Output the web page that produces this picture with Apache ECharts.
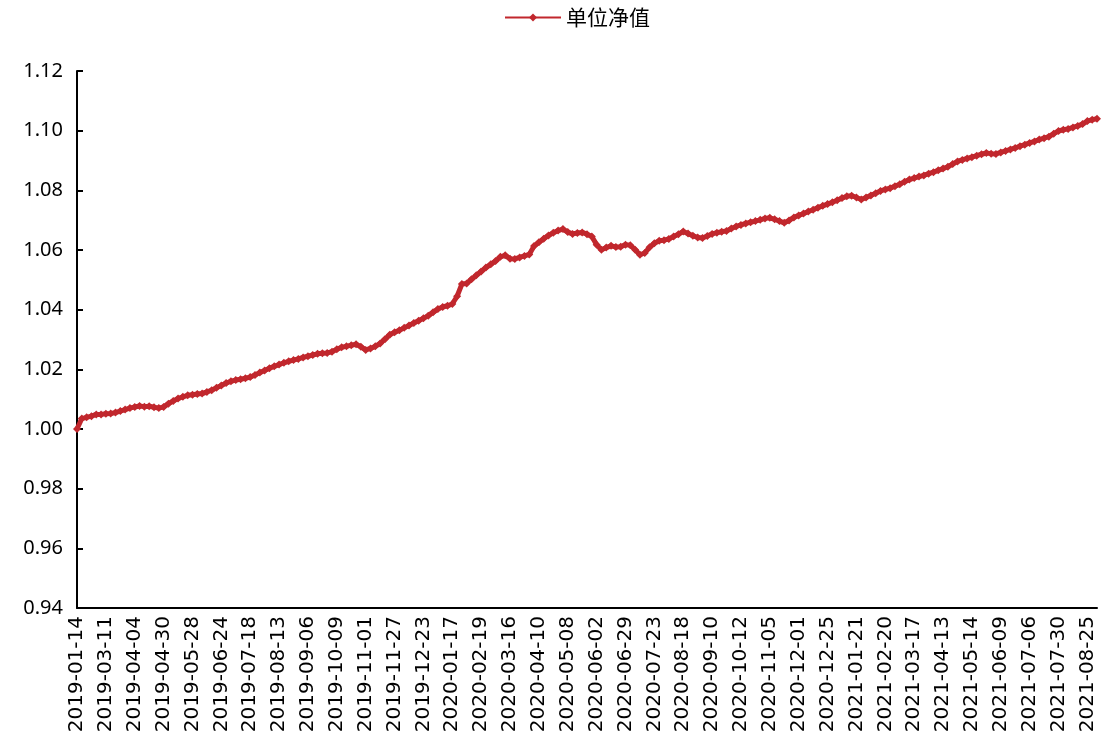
<!DOCTYPE html>
<html>
<head>
<meta charset="utf-8">
<script src="https://cdn.jsdelivr.net/npm/echarts@6/dist/echarts.min.js"></script>
<style>
html,body{margin:0;padding:0;background:#fff;}
#chart{width:1116px;height:742px;}
</style>
</head>
<body>
<div id="chart"></div>
<script>
// Trading dates (sampled every 3 trading days; every 6th one is an axis label)
const dates = [
'2019-01-14','2019-01-23','2019-02-01','2019-02-15','2019-02-22','2019-03-01',
'2019-03-11','2019-03-14','2019-03-19','2019-03-22','2019-03-27','2019-04-01',
'2019-04-04','2019-04-10','2019-04-15','2019-04-18','2019-04-23','2019-04-26',
'2019-04-30','2019-05-08','2019-05-13','2019-05-16','2019-05-21','2019-05-24',
'2019-05-28','2019-05-31','2019-06-05','2019-06-11','2019-06-14','2019-06-19',
'2019-06-24','2019-06-27','2019-07-02','2019-07-05','2019-07-10','2019-07-15',
'2019-07-18','2019-07-23','2019-07-26','2019-07-31','2019-08-05','2019-08-08',
'2019-08-13','2019-08-16','2019-08-21','2019-08-26','2019-08-29','2019-09-03',
'2019-09-06','2019-09-11','2019-09-17','2019-09-20','2019-09-25','2019-09-30',
'2019-10-09','2019-10-14','2019-10-17','2019-10-22','2019-10-25','2019-10-30',
'2019-11-01','2019-11-06','2019-11-11','2019-11-14','2019-11-19','2019-11-22',
'2019-11-27','2019-12-02','2019-12-05','2019-12-10','2019-12-13','2019-12-18',
'2019-12-23','2019-12-26','2019-12-31','2020-01-06','2020-01-09','2020-01-14',
'2020-01-17','2020-01-22','2020-02-04','2020-02-07','2020-02-12','2020-02-17',
'2020-02-19','2020-02-24','2020-02-27','2020-03-03','2020-03-06','2020-03-11',
'2020-03-16','2020-03-19','2020-03-24','2020-03-27','2020-04-01','2020-04-07',
'2020-04-10','2020-04-15','2020-04-20','2020-04-23','2020-04-28','2020-05-06',
'2020-05-08','2020-05-13','2020-05-18','2020-05-21','2020-05-26','2020-05-29',
'2020-06-02','2020-06-05','2020-06-10','2020-06-15','2020-06-18','2020-06-23',
'2020-06-29','2020-07-02','2020-07-07','2020-07-10','2020-07-15','2020-07-20',
'2020-07-23','2020-07-28','2020-07-31','2020-08-05','2020-08-10','2020-08-13',
'2020-08-18','2020-08-21','2020-08-26','2020-08-31','2020-09-03','2020-09-08',
'2020-09-10','2020-09-15','2020-09-18','2020-09-23','2020-09-28','2020-10-09',
'2020-10-12','2020-10-15','2020-10-20','2020-10-23','2020-10-28','2020-11-02',
'2020-11-05','2020-11-10','2020-11-13','2020-11-18','2020-11-23','2020-11-26',
'2020-12-01','2020-12-04','2020-12-09','2020-12-14','2020-12-17','2020-12-22',
'2020-12-25','2020-12-30','2021-01-05','2021-01-08','2021-01-13','2021-01-18',
'2021-01-21','2021-01-26','2021-01-29','2021-02-03','2021-02-08','2021-02-18',
'2021-02-20','2021-02-24','2021-03-01','2021-03-04','2021-03-09','2021-03-12',
'2021-03-17','2021-03-22','2021-03-25','2021-03-30','2021-04-02','2021-04-08',
'2021-04-13','2021-04-16','2021-04-21','2021-04-26','2021-04-29','2021-05-07',
'2021-05-14','2021-05-19','2021-05-24','2021-05-27','2021-06-01','2021-06-04',
'2021-06-09','2021-06-15','2021-06-18','2021-06-23','2021-06-28','2021-07-01',
'2021-07-06','2021-07-09','2021-07-14','2021-07-19','2021-07-22','2021-07-27',
'2021-07-30','2021-08-04','2021-08-09','2021-08-12','2021-08-17','2021-08-20',
'2021-08-25','2021-08-30','2021-09-02'
];

// 单位净值
const nav = [
1.0000,1.0035,1.0039,1.0043,1.0049,1.0049,
1.0051,1.0052,1.0055,1.0060,1.0065,1.0070,
1.0074,1.0077,1.0075,1.0076,1.0073,1.0070,
1.0074,1.0085,1.0094,1.0102,1.0108,1.0113,
1.0115,1.0117,1.0119,1.0124,1.0130,1.0138,
1.0146,1.0154,1.0160,1.0164,1.0167,1.0170,
1.0174,1.0181,1.0189,1.0196,1.0204,1.0210,
1.0216,1.0222,1.0227,1.0231,1.0235,1.0240,
1.0244,1.0248,1.0252,1.0254,1.0255,1.0259,
1.0267,1.0274,1.0277,1.0281,1.0284,1.0276,
1.0265,1.0270,1.0277,1.0287,1.0301,1.0316,
1.0324,1.0331,1.0339,1.0347,1.0355,1.0363,
1.0371,1.0380,1.0391,1.0402,1.0409,1.0413,
1.0419,1.0445,1.0486,1.0488,1.0502,1.0515,
1.0528,1.0541,1.0552,1.0563,1.0577,1.0582,
1.0571,1.0570,1.0575,1.0580,1.0585,1.0613,
1.0626,1.0638,1.0649,1.0658,1.0665,1.0670,
1.0660,1.0654,1.0657,1.0659,1.0653,1.0645,
1.0618,1.0601,1.0608,1.0614,1.0610,1.0611,
1.0618,1.0616,1.0601,1.0584,1.0590,1.0609,
1.0623,1.0631,1.0633,1.0637,1.0645,1.0653,
1.0662,1.0655,1.0648,1.0642,1.0640,1.0647,
1.0654,1.0658,1.0661,1.0664,1.0672,1.0679,
1.0684,1.0689,1.0693,1.0697,1.0701,1.0706,
1.0708,1.0703,1.0697,1.0691,1.0699,1.0709,
1.0716,1.0722,1.0729,1.0735,1.0742,1.0748,
1.0754,1.0760,1.0767,1.0774,1.0780,1.0782,
1.0776,1.0769,1.0776,1.0783,1.0790,1.0798,
1.0803,1.0807,1.0814,1.0820,1.0829,1.0836,
1.0841,1.0846,1.0850,1.0856,1.0861,1.0867,
1.0873,1.0879,1.0888,1.0897,1.0902,1.0907,
1.0911,1.0916,1.0921,1.0925,1.0923,1.0922,
1.0927,1.0932,1.0937,1.0942,1.0948,1.0953,
1.0959,1.0964,1.0970,1.0975,1.0980,1.0990,
1.0999,1.1003,1.1006,1.1011,1.1016,1.1022,
1.1032,1.1037,1.1040
];

const seriesName = '单位净值';
const yMin = 0.94, yMax = 1.12, yStep = 0.02;
const labelEvery = 6;

const chart = echarts.init(document.getElementById('chart'), null, {renderer: 'canvas'});
const red = '#C1272D';
chart.setOption({
  animation: false,
  backgroundColor: '#ffffff',
  legend: {
    data: [seriesName],
    left: 499,
    top: 2,
    itemWidth: 56,
    itemHeight: 10,
    itemGap: 10,
    textStyle: {fontSize: 21, color: '#000', fontFamily: '"Noto Sans CJK SC", sans-serif'}
  },
  grid: {left: 77, right: 19, top: 71, bottom: 134, containLabel: false},
  xAxis: {
    type: 'category',
    data: dates,
    boundaryGap: false,
    axisLine: {show: true, lineStyle: {color: '#000', width: 2}},
    axisTick: {show: false},
    splitLine: {show: false},
    axisLabel: {
      interval: labelEvery - 1,
      rotate: 90,
      fontSize: 20,
      color: '#000',
      margin: 8,
      fontFamily: '"DejaVu Sans", sans-serif'
    }
  },
  yAxis: {
    type: 'value',
    min: yMin,
    max: yMax,
    interval: yStep,
    axisLine: {show: true, lineStyle: {color: '#000', width: 2}},
    axisTick: {show: true, inside: true, length: 6, lineStyle: {color: '#000', width: 2}},
    splitLine: {show: false},
    axisLabel: {
      fontSize: 20,
      color: '#000',
      margin: 14,
      fontFamily: '"Noto Sans", sans-serif',
      formatter: v => v.toFixed(2)
    }
  },
  series: [{
    name: seriesName,
    type: 'line',
    data: nav,
    symbol: 'diamond',
    symbolSize: 8,
    showSymbol: true,
    showAllSymbol: true,
    itemStyle: {color: red},
    lineStyle: {color: red, width: 5},
    emphasis: {disabled: true}
  }]
});
</script>
</body>
</html>
